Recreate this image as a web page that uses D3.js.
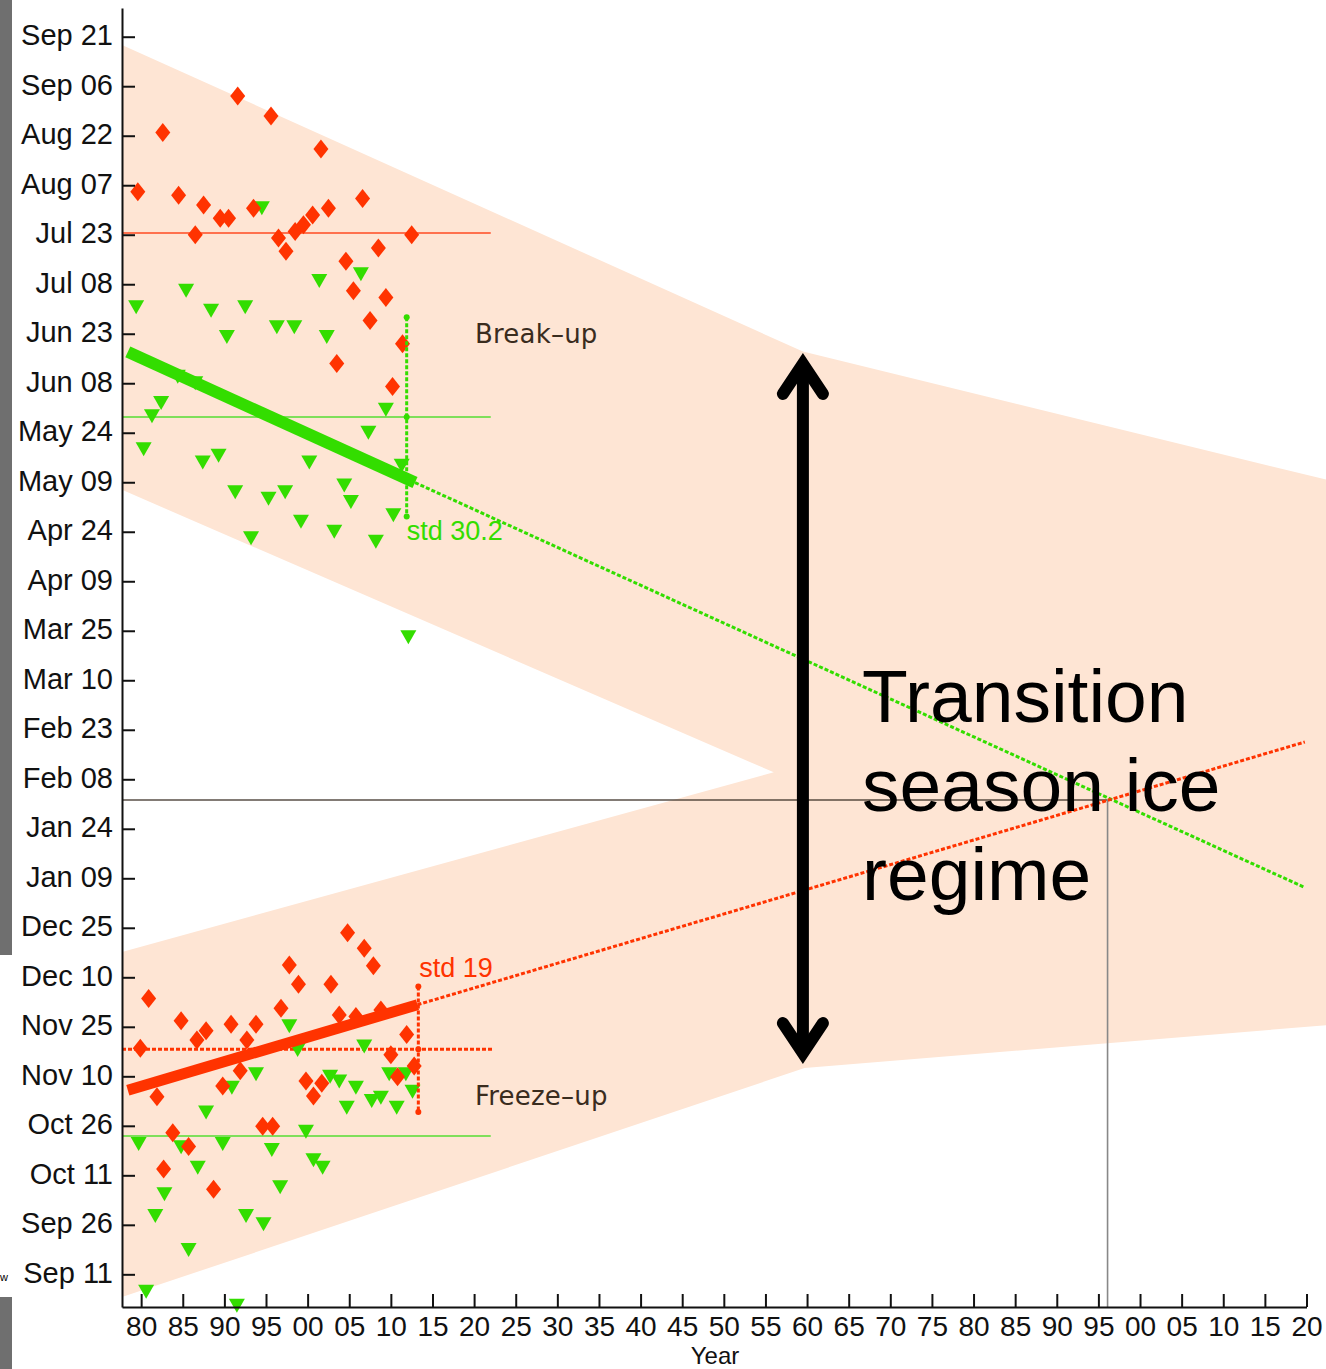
<!DOCTYPE html>
<html>
<head>
<meta charset="utf-8">
<script src="https://cdn.jsdelivr.net/npm/d3@7"></script>
<style>
  body { margin: 0; background: #fff; }
  svg { display: block; }
  .axis text { font-family: "Liberation Sans", Arial, sans-serif; font-size: 28px; fill: #111; }
  .axis.y text { font-size: 29px; }
  .axis path, .axis line { stroke: #111; stroke-width: 2; }
</style>
</head>
<body>
<div id="chart"></div>
<script>
// y values are days of the ice season: day 0 = Sep 11, day 375 = Sep 21 of the next year
var dayTicks = d3.range(0, 376, 15);
var yearTicks = d3.range(1980, 2121, 5);

// break-up dates
var breakRedYears = [1979.6, 1982.6, 1984.5, 1986.5, 1987.5, 1989.5, 1990.5, 1991.6, 1993.5, 1995.6, 1996.5, 1997.4, 1998.5, 1999.5, 2000.6, 2001.6, 2002.5, 2003.5, 2004.6, 2005.5, 2006.6, 2007.5, 2008.5, 2009.4, 2010.2, 2011.4, 2012.5];
var breakRedDays = [328, 346, 327, 315, 324, 320, 320, 357, 323, 351, 314, 310, 316, 318, 321, 341, 323, 276, 307, 298, 326, 289, 311, 296, 269, 282, 315];
var breakGreenYears = [1979.4, 1980.3, 1981.3, 1982.4, 1984.4, 1985.4, 1986.5, 1987.4, 1988.4, 1989.3, 1990.3, 1991.3, 1992.5, 1993.2, 1994.5, 1995.3, 1996.3, 1997.3, 1998.4, 1999.2, 2000.2, 2001.4, 2002.3, 2003.2, 2004.4, 2005.2, 2006.4, 2007.3, 2008.2, 2009.4, 2010.3, 2011.3, 2012.1];
var breakGreenDays = [293, 250, 260, 264, 272, 298, 270, 246, 292, 248, 284, 237, 293, 223, 323, 235, 287, 237, 287, 228, 246, 301, 284, 225, 239, 234, 303, 255, 222, 262, 230, 245, 193];

// freeze-up dates
var freezeRedYears = [1979.9, 1980.9, 1981.9, 1982.7, 1983.8, 1984.8, 1985.7, 1986.7, 1987.8, 1988.7, 1989.8, 1990.8, 1991.9, 1992.7, 1993.8, 1994.6, 1995.8, 1996.8, 1997.8, 1998.9, 1999.8, 2000.7, 2001.7, 2002.8, 2003.8, 2004.8, 2005.8, 2006.8, 2007.9, 2008.8, 2010.0, 2010.8, 2011.9, 2012.8];
var freezeRedDays = [68.5, 83.6, 53.8, 31.9, 42.9, 76.8, 38.7, 71, 73.8, 25.8, 57.1, 75.8, 61.7, 71, 75.8, 44.9, 44.9, 80.6, 93.7, 87.9, 58.6, 54, 57.9, 87.9, 78.6, 103.5, 78.1, 98.8, 93.5, 80.1, 66.5, 59.9, 72.7, 63.1];
var freezeGreenYears = [1979.7, 1980.6, 1981.7, 1982.8, 1984.8, 1985.7, 1986.8, 1987.8, 1989.8, 1990.9, 1991.5, 1992.6, 1993.8, 1994.7, 1995.7, 1996.7, 1997.8, 1998.8, 1999.8, 2000.7, 2001.8, 2002.7, 2003.8, 2004.7, 2005.8, 2006.8, 2007.7, 2008.8, 2009.8, 2010.7, 2011.8, 2012.6];
var freezeGreenDays = [39.5, -5.3, 17.7, 24.3, 38.5, 7.4, 32.3, 49, 39.5, 56.5, -9.5, 17.7, 60.6, 15.2, 37.7, 26.4, 75.2, 68, 43.2, 34.6, 32.3, 59.9, 58.4, 50.5, 56.5, 69, 52.5, 53.5, 60.6, 50.5, 60.6, 55.3];

// fitted trends [year, day]
var breakTrend = [[1978.4, 279.5], [2012.9, 239.9]];
var breakTrendExt = [[2012.9, 239.9], [2119.8, 117.2]];
var freezeTrend = [[1978.4, 55.8], [2013.2, 81.7]];
var freezeTrendExt = [[2013.2, 81.7], [2119.8, 161.3]];

// means and spreads
var meanSpan = [1977.7, 2022];
var breakRedMean = 315.5, breakGreenMean = 259.8;
var freezeRedMean = 68.2, freezeGreenMean = 41.9;
var breakStd = 30.2, breakStdYear = 2011.9;
var freezeStd = 19, freezeStdYear = 2013.3;

// where the two projected trends meet
var crossing = [2096.1, 143.7];

// shaded envelope [year, day]
var envelope = [[1977.7, 372.5], [2059.5, 279.6], [2122.5, 240.7], [2122.5, 75.5], [2059.7, 62.5],
  [1977.7, -6.9], [1977.7, 97.7], [2056.0, 152.1], [1977.7, 237.7]];

// transition arrow [year, day from, day to]
var arrowYear = 2059.5, arrowTop = 279.5, arrowBottom = 63.4;

window.onload = () => {
  var W = 1326, H = 1369;
  var red = "#ff3300", green = "#33dd00";

  var svg = d3.select("#chart").append("svg")
    .attr("width", W)
    .attr("height", H);

  var x = d3.scaleLinear().domain([1977.7, 2120]).range([122, 1306.5]);
  var y = d3.scaleLinear().domain([-9.9, 383.7]).range([1307, 8]);

  var base = new Date(2001, 8, 11);
  var fmtDay = d => d3.timeFormat("%b %d")(d3.timeDay.offset(base, d));

  var line = d3.line().x(d => x(d[0])).y(d => y(d[1]));

  // grey strips at the left edge of the picture
  svg.append("rect").attr("x", 0).attr("y", 0).attr("width", 12).attr("height", 955).attr("fill", "#6f6f6f");
  svg.append("rect").attr("x", 0).attr("y", 1297).attr("width", 12).attr("height", 72).attr("fill", "#6f6f6f");
  svg.append("text").attr("x", 0).attr("y", 1281)
    .style("font", "11px 'Liberation Sans', Arial").text("w");

  // envelope
  svg.append("path")
    .attr("d", line(envelope) + "Z")
    .attr("fill", "#fee5d4");

  // mean lines
  var g = svg.append("g");
  g.append("line")
    .attr("x1", x(meanSpan[0])).attr("x2", x(meanSpan[1]))
    .attr("y1", y(breakRedMean)).attr("y2", y(breakRedMean))
    .attr("stroke", "#ff4a22").attr("stroke-width", 1.5);
  g.append("line")
    .attr("x1", x(meanSpan[0])).attr("x2", x(meanSpan[1]))
    .attr("y1", y(breakGreenMean)).attr("y2", y(breakGreenMean))
    .attr("stroke", "#55dd33").attr("stroke-width", 1.5);
  g.append("line")
    .attr("x1", x(meanSpan[0])).attr("x2", x(meanSpan[1]))
    .attr("y1", y(freezeGreenMean)).attr("y2", y(freezeGreenMean))
    .attr("stroke", "#55dd33").attr("stroke-width", 1.5);
  g.append("line")
    .attr("x1", x(meanSpan[0])).attr("x2", x(meanSpan[1]) + 2)
    .attr("y1", y(freezeRedMean)).attr("y2", y(freezeRedMean))
    .attr("stroke", red).attr("stroke-width", 3).attr("stroke-dasharray", "4,2");

  // crossing guides
  g.append("line")
    .attr("x1", x.range()[0]).attr("x2", x(crossing[0]))
    .attr("y1", y(crossing[1])).attr("y2", y(crossing[1]))
    .attr("stroke", "#3b3026").attr("stroke-opacity", 0.85).attr("stroke-width", 1.6);
  g.append("line")
    .attr("x1", x(crossing[0])).attr("x2", x(crossing[0]))
    .attr("y1", y(crossing[1])).attr("y2", y.range()[0])
    .attr("stroke", "#888").attr("stroke-width", 1.6);

  // points
  var diamond = "M0,-9.5L7.5,0L0,9.5L-7.5,0Z";
  var triangle = "M-8,-7L8,-7L0,7Z";

  function plot(years, days, shape, color) {
    svg.append("g").selectAll("path")
      .data(years.map((yr, i) => [yr, days[i]]))
      .join("path")
        .attr("d", shape)
        .attr("transform", d => "translate(" + x(d[0]) + "," + y(d[1]) + ")")
        .attr("fill", color);
  }
  plot(breakGreenYears, breakGreenDays, triangle, green);
  plot(breakRedYears, breakRedDays, diamond, red);
  plot(freezeGreenYears, freezeGreenDays, triangle, green);
  plot(freezeRedYears, freezeRedDays, diamond, red);

  // trends
  svg.append("path").attr("d", line(breakTrend))
    .attr("stroke", green).attr("stroke-width", 12).attr("fill", "none");
  svg.append("path").attr("d", line(breakTrendExt))
    .attr("stroke", green).attr("stroke-width", 3).attr("stroke-dasharray", "4,2").attr("fill", "none");
  svg.append("path").attr("d", line(freezeTrend))
    .attr("stroke", red).attr("stroke-width", 11).attr("fill", "none");
  svg.append("path").attr("d", line(freezeTrendExt))
    .attr("stroke", red).attr("stroke-width", 3).attr("stroke-dasharray", "4,2").attr("fill", "none");

  // std bars
  function stdBar(yr, mean, sd, color) {
    var sg = svg.append("g");
    sg.append("line")
      .attr("x1", x(yr)).attr("x2", x(yr))
      .attr("y1", y(mean + sd)).attr("y2", y(mean - sd))
      .attr("stroke", color).attr("stroke-width", 3).attr("stroke-dasharray", "4,2");
    sg.selectAll("circle")
      .data([mean + sd, mean, mean - sd])
      .join("circle")
        .attr("cx", x(yr)).attr("cy", d => y(d)).attr("r", 3)
        .attr("fill", color);
  }
  stdBar(breakStdYear, breakGreenMean, breakStd, green);
  stdBar(freezeStdYear, freezeRedMean, freezeStd, red);

  svg.append("text")
    .attr("x", x(breakStdYear)).attr("y", y(breakGreenMean - breakStd) + 23)
    .attr("fill", green)
    .style("font", "27px 'Liberation Sans', Arial, sans-serif")
    .text("std " + breakStd);
  svg.append("text")
    .attr("x", x(freezeStdYear) + 1).attr("y", y(freezeRedMean + freezeStd) - 10)
    .attr("fill", red)
    .style("font", "27px 'Liberation Sans', Arial, sans-serif")
    .text("std " + freezeStd);

  // season labels
  svg.append("text").attr("x", 475).attr("y", 343)
    .attr("fill", "#3a2c1e")
    .style("font", "26px 'DejaVu Sans', sans-serif")
    .attr("letter-spacing", 0.2)
    .text("Break\u2013up");
  svg.append("text").attr("x", 475).attr("y", 1105)
    .attr("fill", "#3a2c1e")
    .style("font", "26px 'DejaVu Sans', sans-serif")
    .attr("letter-spacing", 0.2)
    .text("Freeze\u2013up");

  // double-headed arrow
  var ax = x(arrowYear), ay1 = y(arrowTop), ay2 = y(arrowBottom);
  var arrow = svg.append("g")
    .attr("stroke", "#000").attr("stroke-width", 12).attr("fill", "none")
    .attr("stroke-linecap", "round").attr("stroke-linejoin", "miter");
  arrow.append("line").attr("x1", ax).attr("x2", ax).attr("y1", ay1 + 12).attr("y2", ay2 - 12)
    .attr("stroke-linecap", "butt");
  arrow.append("path")
    .attr("d", "M" + (ax - 20) + "," + (ay1 + 42) + "L" + ax + "," + (ay1 + 12) + "L" + (ax + 20) + "," + (ay1 + 42));
  arrow.append("path")
    .attr("d", "M" + (ax - 20) + "," + (ay2 - 42) + "L" + ax + "," + (ay2 - 12) + "L" + (ax + 20) + "," + (ay2 - 42));

  // big label
  var big = svg.append("text")
    .attr("x", 862).attr("y", 722)
    .attr("fill", "#000")
    .style("font", "75px 'Liberation Sans', Arial, sans-serif");
  ["Transition", "season ice", "regime"].forEach((t, i) => {
    big.append("tspan").attr("x", 862).attr("dy", i ? 89 : 0).text(t);
  });

  // axes
  svg.append("g")
    .attr("class", "axis y")
    .attr("transform", "translate(" + x.range()[0] + ",0)")
    .call(d3.axisLeft(y)
      .tickValues(dayTicks)
      .tickSizeInner(-13)
      .tickSizeOuter(0)
      .tickPadding(9)
      .tickFormat(fmtDay))
    .selectAll("text").attr("dy", "0.28em");

  svg.append("g")
    .attr("class", "axis x")
    .attr("transform", "translate(0," + y.range()[0] + ")")
    .call(d3.axisBottom(x)
      .tickValues(yearTicks)
      .tickSizeInner(-13)
      .tickSizeOuter(0)
      .tickPadding(9)
      .tickFormat(d => d3.format("02")(d % 100)));

  svg.append("text")
    .attr("x", 715).attr("y", 1364)
    .attr("text-anchor", "middle")
    .attr("fill", "#111")
    .style("font", "24px 'Liberation Sans', Arial, sans-serif")
    .text("Year");
};
</script>
</body>
</html>
